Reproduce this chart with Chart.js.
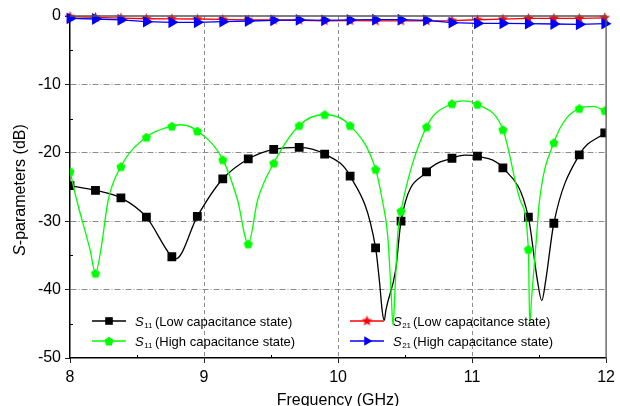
<!DOCTYPE html>
<html>
<head>
<meta charset="utf-8">
<script src="https://cdn.jsdelivr.net/npm/chart.js@4.4.0/dist/chart.umd.min.js"></script>
<style>
  html, body { margin: 0; padding: 0; background: #fff; }
</style>
</head>
<body>
<canvas id="sparam-chart" width="620" height="406"></canvas>
<script>
// Fréquences des marqueurs (GHz)
const freqMarkers = [8.00, 8.19, 8.38, 8.57, 8.76, 8.95, 9.14, 9.33, 9.52, 9.71, 9.90,
  10.09, 10.28, 10.47, 10.66, 10.85, 11.04, 11.23, 11.42, 11.61, 11.80, 11.99];

// S11, état basse capacité (carrés noirs)
const s11Low = [-24.8, -25.5, -26.6, -29.4, -35.2, -29.3, -23.8, -20.9, -19.5, -19.2, -20.2,
  -23.4, -33.9, -30.0, -22.8, -20.8, -20.5, -22.2, -29.4, -30.3, -20.3, -17.1];
// points de courbe entre les marqueurs (creux)
const s11LowExtraFreq = [8.79, 10.31, 10.33, 10.345, 10.357, 10.43, 10.95, 11.487, 11.52, 11.55];
const s11LowExtraVal = [-35.5, -39.0, -43.2, -44.5, -43.0, -37.1, -20.35, -38.6, -41.6, -38.6];

// S11, état haute capacité (pentagones verts)
const s11High = [-22.7, -37.6, -22.0, -17.7, -16.1, -16.8, -21.0, -33.3, -21.5, -16.0, -14.4,
  -16.0, -22.4, -28.5, -16.2, -12.8, -12.9, -16.6, -34.1, -18.5, -13.5, -13.8];
const s11HighExtraFreq = [8.05, 8.15, 8.23, 8.285, 8.83, 9.25, 9.40, 10.33, 10.37, 10.395, 10.41,
  10.425, 10.445, 10.93, 11.36, 11.43, 11.445, 11.485, 11.50, 11.90];
const s11HighExtraVal = [-26.9, -34.2, -34.2, -26.9, -15.9, -26.9, -26.9, -26.9, -32.0, -40.0, -45.2,
  -40.0, -32.0, -12.4, -27.0, -45.0, -41.0, -31.3, -27.5, -13.2];

// S21 (étoiles rouges / triangles bleus)
const s21Low = [-0.10, -0.20, -0.30, -0.40, -0.42, -0.44, -0.50, -0.56, -0.58, -0.62, -0.70,
  -0.68, -0.72, -0.72, -0.72, -0.68, -0.55, -0.45, -0.36, -0.34, -0.34, -0.26];
const s21High = [-0.34, -0.44, -0.58, -0.83, -0.92, -0.92, -0.83, -0.73, -0.63, -0.58, -0.63,
  -0.58, -0.54, -0.54, -0.63, -0.97, -1.07, -1.07, -1.12, -1.17, -1.22, -1.12];

const yTicks = [0, -10, -20, -30, -40, -50];
const xTicks = [8, 9, 10, 11, 12];

const FONT = '"Liberation Sans", Arial, Helvetica, sans-serif';

// Assemble marqueurs + points intermédiaires
function buildSeries(mFreq, mVal, eFreq, eVal) {
  const pts = mFreq.map((x, i) => ({ x: x, y: mVal[i], marker: true }));
  (eFreq || []).forEach((x, i) => pts.push({ x: x, y: eVal[i], marker: false }));
  pts.sort((a, b) => a.x - b.x);
  return pts;
}

// Formes de marqueurs personnalisées
function makeStar(color, r) {
  const c = document.createElement('canvas');
  c.width = c.height = Math.ceil(r * 2 + 2);
  const g = c.getContext('2d');
  const cx = c.width / 2, cy = c.height / 2;
  g.beginPath();
  for (let i = 0; i < 10; i++) {
    const rr = i % 2 ? r * 0.45 : r;
    const a = -Math.PI / 2 + i * Math.PI / 5;
    g.lineTo(cx + rr * Math.cos(a), cy + rr * Math.sin(a));
  }
  g.closePath();
  g.fillStyle = color;
  g.fill();
  return c;
}

function makePentagon(color, r) {
  const c = document.createElement('canvas');
  c.width = c.height = Math.ceil(r * 2 + 2);
  const g = c.getContext('2d');
  const cx = c.width / 2, cy = c.height / 2 + 0.5;
  g.beginPath();
  for (let i = 0; i < 5; i++) {
    const a = -Math.PI / 2 + i * 2 * Math.PI / 5;
    g.lineTo(cx + r * Math.cos(a), cy + r * Math.sin(a));
  }
  g.closePath();
  g.fillStyle = color;
  g.fill();
  return c;
}

const starImg = makeStar('#ff0000', 5.5);
const pentaImg = makePentagon('#00ff00', 4.8);

const markerRadius = (r) => (ctx) => (ctx.raw && ctx.raw.marker ? r : 0);

const datasets = [
  {
    label: 'S11 low',
    data: buildSeries(freqMarkers, s11Low, s11LowExtraFreq, s11LowExtraVal),
    borderColor: '#000000',
    backgroundColor: '#000000',
    borderWidth: 1.3,
    pointStyle: 'rect',
    pointRadius: markerRadius(5.3),
    cubicInterpolationMode: 'monotone',
    order: 3,
  },
  {
    label: 'S11 high',
    data: buildSeries(freqMarkers, s11High, s11HighExtraFreq, s11HighExtraVal),
    borderColor: '#00ff00',
    backgroundColor: '#00ff00',
    borderWidth: 1.3,
    pointStyle: pentaImg,
    pointRadius: markerRadius(5),
    cubicInterpolationMode: 'monotone',
    order: 2,
  },
  {
    label: 'S21 low',
    data: buildSeries(freqMarkers, s21Low),
    borderColor: '#ff0000',
    backgroundColor: '#ff0000',
    borderWidth: 1.3,
    pointStyle: starImg,
    pointRadius: 5.5,
    tension: 0,
    clip: false,
    order: 1,
  },
  {
    label: 'S21 high',
    data: buildSeries(freqMarkers, s21High),
    borderColor: '#0000ff',
    backgroundColor: '#0000ff',
    borderWidth: 1.3,
    pointStyle: 'triangle',
    pointRotation: 90,
    pointRadius: 5.5,
    tension: 0,
    clip: false,
    order: 0,
  },
];

// Légende (2 colonnes dans la zone du graphique)
const legendItems = [
  { ds: 0, x: 92, y: 321, sub: '11', text: '(Low capacitance state)' },
  { ds: 1, x: 92, y: 341, sub: '11', text: '(High capacitance state)' },
  { ds: 2, x: 350, y: 321, sub: '21', text: '(Low capacitance state)' },
  { ds: 3, x: 350, y: 341, sub: '21', text: '(High capacitance state)' },
];

function drawMarker(ctx, ds, x, y) {
  ctx.save();
  ctx.fillStyle = ds.backgroundColor;
  if (ds.pointStyle === 'rect') {
    ctx.fillRect(x - 3.8, y - 3.8, 7.6, 7.6);
  } else if (ds.pointStyle === 'triangle') {
    const r = 5.5;
    ctx.beginPath();
    ctx.moveTo(x + r, y);
    ctx.lineTo(x - r / 2, y - r * 0.866);
    ctx.lineTo(x - r / 2, y + r * 0.866);
    ctx.closePath();
    ctx.fill();
  } else {
    const img = ds.pointStyle;
    ctx.drawImage(img, x - img.width / 2, y - img.height / 2);
  }
  ctx.restore();
}

function drawSLabel(ctx, x, y, sub, rest, size) {
  ctx.textBaseline = 'alphabetic';
  ctx.textAlign = 'left';
  ctx.fillStyle = '#000';
  ctx.font = 'italic ' + size + 'px ' + FONT;
  ctx.fillText('S', x, y);
  let w = ctx.measureText('S').width;
  ctx.font = Math.round(size * 0.58) + 'px ' + FONT;
  ctx.fillText(sub, x + w + 0.5, y + 2);
  ctx.font = size + 'px ' + FONT;
  ctx.fillText(rest, x + 20, y);
}

const decorPlugin = {
  id: 'decor',
  afterDraw(chart) {
    const ctx = chart.ctx;
    const a = chart.chartArea;
    const xs = chart.scales.x, ys = chart.scales.y;

    // cadre haut / droite
    ctx.save();
    ctx.strokeStyle = '#555';
    ctx.lineWidth = 1.3;
    ctx.beginPath();
    ctx.moveTo(a.left, a.top);
    ctx.lineTo(a.right, a.top);
    ctx.lineTo(a.right, a.bottom);
    ctx.stroke();

    // graduations secondaires vers l'intérieur
    ctx.strokeStyle = '#000';
    ctx.lineWidth = 1;
    ctx.beginPath();
    [8.5, 9.5, 10.5, 11.5].forEach((v) => {
      const px = Math.round(xs.getPixelForValue(v)) + 0.5;
      ctx.moveTo(px, a.bottom);
      ctx.lineTo(px, a.bottom - 3);
    });
    [-5, -15, -25, -35, -45].forEach((v) => {
      const py = Math.round(ys.getPixelForValue(v)) + 0.5;
      ctx.moveTo(a.left, py);
      ctx.lineTo(a.left + 3, py);
    });
    ctx.stroke();

    // titres des axes
    ctx.fillStyle = '#000';
    ctx.font = '16px ' + FONT;
    ctx.textAlign = 'center';
    ctx.textBaseline = 'alphabetic';
    ctx.fillText('Frequency (GHz)', (a.left + a.right) / 2, 405);

    ctx.translate(25, (a.top + a.bottom) / 2 + 3);
    ctx.rotate(-Math.PI / 2);
    ctx.textAlign = 'left';
    ctx.font = 'italic 16px ' + FONT;
    const wS = ctx.measureText('S').width;
    ctx.font = '16px ' + FONT;
    const wRest = ctx.measureText('-parameters (dB)').width;
    const x0 = -(wS + wRest) / 2;
    ctx.font = 'italic 16px ' + FONT;
    ctx.fillText('S', x0, 0);
    ctx.font = '16px ' + FONT;
    ctx.fillText('-parameters (dB)', x0 + wS, 0);
    ctx.restore();

    // légende
    ctx.save();
    legendItems.forEach((it) => {
      const ds = chart.data.datasets[it.ds];
      ctx.strokeStyle = ds.borderColor;
      ctx.lineWidth = 1.4;
      ctx.beginPath();
      ctx.moveTo(it.x, it.y);
      ctx.lineTo(it.x + 34, it.y);
      ctx.stroke();
      drawMarker(ctx, ds, it.x + 17, it.y);
      drawSLabel(ctx, it.x + 43, it.y + 5, it.sub, it.text, 13);
    });
    ctx.restore();
  },
};

const chart = new Chart(document.getElementById('sparam-chart'), {
  type: 'line',
  data: { datasets: datasets },
  options: {
    responsive: false,
    animation: false,
    events: [],
    layout: { padding: { top: 16, right: 12.5, left: 0, bottom: 0 } },
    plugins: { legend: { display: false }, tooltip: { enabled: false } },
    scales: {
      x: {
        type: 'linear',
        min: 8,
        max: 12,
        afterFit(scale) { scale.height = 48; },
        afterBuildTicks(scale) { scale.ticks = xTicks.map((v) => ({ value: v })); },
        ticks: {
          font: { size: 16, family: FONT },
          color: '#000',
          padding: 5,
          maxRotation: 0,
        },
        grid: {
          color: (ctx) => (ctx.tick && (ctx.tick.value === 8 || ctx.tick.value === 12)) ? 'rgba(0,0,0,0)' : '#8c8c8c',
          lineWidth: 1,
          tickLength: 5,
          tickColor: '#222',
        },
        border: { color: '#000', width: 1.5, dash: [4, 3] },
      },
      y: {
        min: -50,
        max: 0,
        afterFit(scale) { scale.width = 70; },
        afterBuildTicks(scale) { scale.ticks = yTicks.map((v) => ({ value: v })); },
        ticks: {
          font: { size: 16, family: FONT },
          color: '#000',
          padding: 4,
        },
        grid: {
          color: (ctx) => (ctx.tick && (ctx.tick.value === 0 || ctx.tick.value === -50)) ? 'rgba(0,0,0,0)' : '#8c8c8c',
          lineWidth: 1,
          tickLength: 5,
          tickColor: '#222',
        },
        border: { color: '#000', width: 1.5, dash: [6, 2, 1, 2] },
      },
    },
  },
  plugins: [decorPlugin],
});
</script>
</body>
</html>
